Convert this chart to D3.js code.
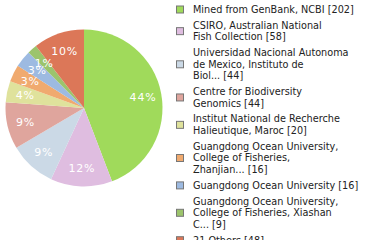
<!DOCTYPE html>
<html>
<head>
    <meta charset="utf-8">
    <script src="https://d3js.org/d3.v7.min.js"></script>
    <style>
        body { margin: 0; background: #fff; font-family: "DejaVu Sans", Verdana, sans-serif; }
        .slice-label { font-size: 11px; fill: #fff; letter-spacing: 0.8px; }
        .legend-text { font-size: 9.7px; fill: #222; }
    </style>
</head>
<body>
    <div id="chart"></div>
    <script>
        // Sequencing centres and their record counts
        const centres = [
            'Mined from GenBank, NCBI',
            'CSIRO, Australian National\nFish Collection',
            'Universidad Nacional Autonoma\nde Mexico, Instituto de\nBiol...',
            'Centre for Biodiversity\nGenomics',
            'Institut National de Recherche\nHalieutique, Maroc',
            'Guangdong Ocean University,\nCollege of Fisheries,\nZhanjian...',
            'Guangdong Ocean University',
            'Guangdong Ocean University,\nCollege of Fisheries, Xiashan\nC...',
            '21 Others'
        ];
        const counts = [202, 58, 44, 44, 20, 16, 16, 9, 48];
        const sliceColors = ['#a0da5b', '#dfbde0', '#cbd9e6', '#dfa59d', '#dfe29c',
                             '#f0aa6f', '#9dbae1', '#9cc46c', '#dc7758'];

        const width = 380, height = 240;
        const cx = 84, cy = 108, radius = 78.5;

        const svg = d3.select('#chart').append('svg')
            .attr('width', width)
            .attr('height', height);

        const total = d3.sum(counts);
        const color = d3.scaleOrdinal().domain(d3.range(counts.length)).range(sliceColors);

        const pie = d3.pie().sort(null).value(d => d)(counts);
        const arc = d3.arc().innerRadius(0).outerRadius(radius);
        const labelArc = d3.arc().innerRadius(60).outerRadius(60);

        const g = svg.append('g').attr('transform', `translate(${cx},${cy})`);

        g.selectAll('path')
            .data(pie)
            .enter().append('path')
            .attr('d', arc)
            .attr('fill', (d, i) => color(i));

        // percentages are floored, as in the original
        g.selectAll('text')
            .data(pie)
            .enter().append('text')
            .attr('class', 'slice-label')
            .attr('transform', d => `translate(${labelArc.centroid(d)})`)
            .attr('text-anchor', 'middle')
            .attr('dy', '0.36em')
            .text(d => Math.floor(d.value / total * 100) + '%');

        // Legend
        const lineH = 11.5, gap = 4.4;
        const legend = svg.append('g');
        let y = 9.5;
        centres.forEach((name, i) => {
            const lines = (name + ' [' + counts[i] + ']').split('\n');
            const mid = y + (lines.length - 1) * lineH / 2;
            legend.append('rect')
                .attr('x', 176.5).attr('y', mid - 3.5)
                .attr('width', 7).attr('height', 7)
                .attr('fill', color(i))
                .attr('stroke', '#777')
                .attr('stroke-width', 1);
            const t = legend.append('text')
                .attr('class', 'legend-text')
                .attr('x', 193);
            lines.forEach((ln, j) => {
                t.append('tspan')
                    .attr('x', 193)
                    .attr('y', y + j * lineH)
                    .attr('dy', '0.35em')
                    .text(ln);
            });
            y += lines.length * lineH + gap;
        });
    </script>
</body>
</html>
